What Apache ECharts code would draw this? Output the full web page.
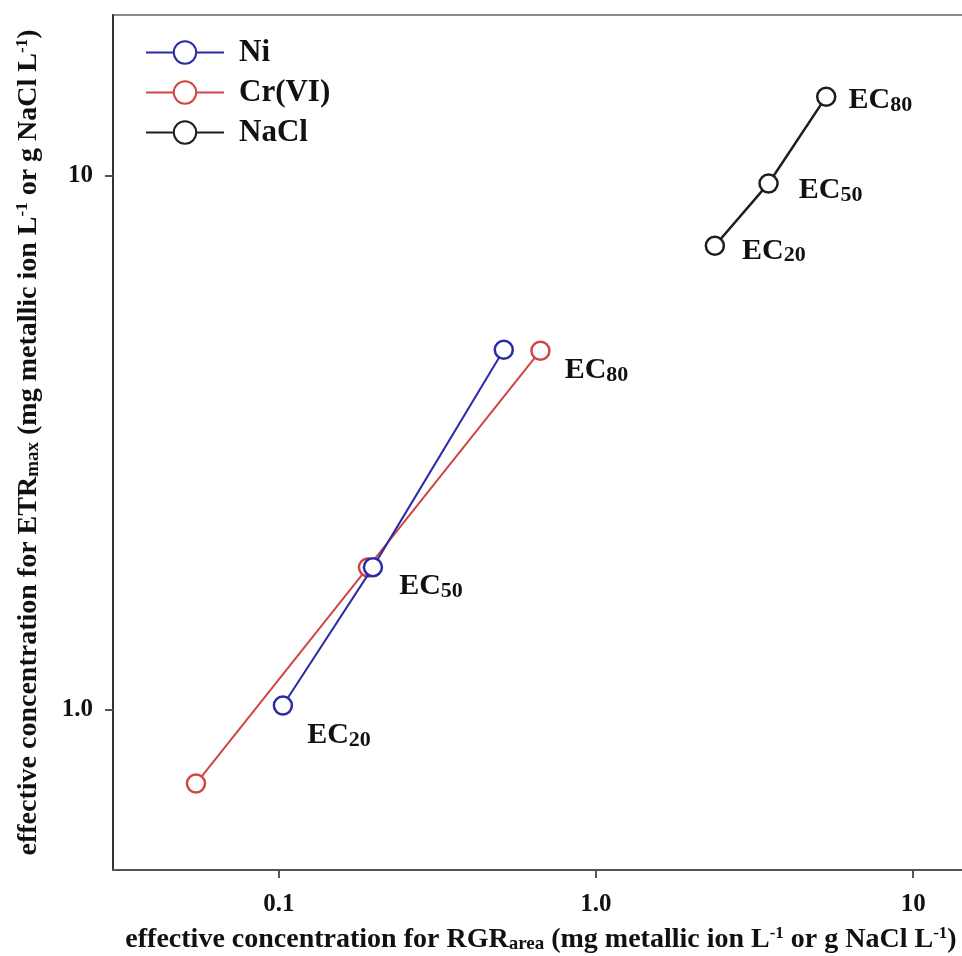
<!DOCTYPE html>
<html>
<head>
<meta charset="utf-8">
<script src="https://cdn.jsdelivr.net/npm/echarts@6/dist/echarts.min.js"></script>
<style>
  html, body { margin: 0; padding: 0; background: #fff; }
  #chart { width: 962px; height: 956px; }
</style>
</head>
<body>
<div id="chart"></div>
<script>
// Effect levels shown for each substance
const ecLevels = ['20', '50', '80'];

// Effective concentrations: RGR_area (x) vs ETR_max (y)
const niRGR = [0.103, 0.198, 0.512];
const niETR = [1.017, 1.847, 4.72];

const crRGR = [0.0548, 0.191, 0.668];
const crETR = [0.726, 1.845, 4.70];

const naclRGR = [2.37, 3.50, 5.32];
const naclETR = [7.39, 9.67, 14.06];

// Decade ticks and their printed labels
const xTickValues = [0.1, 1, 10];
const xTickLabels = ['0.1', '1.0', '10'];
const yTickValues = [1, 10];
const yTickLabels = ['1.0', '10'];

const seriesNames = ['Ni', 'Cr(VI)', 'NaCl'];

const SERIF = '"Liberation Serif", "Times New Roman", serif';

// Which points carry an EC label, and where the label sits relative to the point
const labelPlacement = {
  'Ni':     { 0: [14, 30], 1: [16, 19] },
  'Cr(VI)': { 2: [14, 20] },
  'NaCl':   { 0: [17, 5], 1: [20, 7], 2: [12, 4] }
};

const ecRich = {
  e: { fontFamily: SERIF, fontWeight: 'bold', fontSize: 30, color: '#111', lineHeight: 32 },
  s: { fontFamily: SERIF, fontWeight: 'bold', fontSize: 22, color: '#111', verticalAlign: 'bottom', lineHeight: 24, padding: [10, 0, 0, 0] }
};

function buildPoints(name, xs, ys) {
  const place = labelPlacement[name] || {};
  return xs.map(function (x, i) {
    const pt = { value: [x, ys[i]] };
    if (place[i]) {
      pt.label = {
        show: true,
        position: 'right',
        distance: 0,
        offset: place[i],
        formatter: '{e|EC}{s|' + ecLevels[i] + '}',
        rich: ecRich
      };
    }
    return pt;
  });
}

function lineSeries(name, color, xs, ys, lineWidth, z) {
  return {
    name: name,
    type: 'line',
    data: buildPoints(name, xs, ys),
    symbol: 'circle',
    symbolSize: 18,
    lineStyle: { color: color, width: lineWidth },
    itemStyle: { color: '#fff', borderColor: color, borderWidth: 2.5 },
    label: { show: false },
    emphasis: { disabled: true },
    z: z
  };
}

const titleRich = {
  t:   { fontFamily: SERIF, fontWeight: 'bold', fontSize: 28, color: '#111' },
  sub: { fontFamily: SERIF, fontWeight: 'bold', fontSize: 19, color: '#111', verticalAlign: 'bottom', padding: [10, 0, 0, 0] },
  sup: { fontFamily: SERIF, fontWeight: 'bold', fontSize: 17, color: '#111', verticalAlign: 'top', padding: [0, 0, 8, 0] }
};

function axisTitle(varName, varSub) {
  return '{t|effective concentration for ' + varName + '}{sub|' + varSub + '}' +
         '{t| (mg metallic ion L}{sup|-1}{t| or g NaCl L}{sup|-1}{t|)}';
}

function tickLabel(values, labels) {
  return function (v) {
    for (let i = 0; i < values.length; i++) {
      if (Math.abs(Math.log10(v) - Math.log10(values[i])) < 1e-6) return labels[i];
    }
    return '';
  };
}

const chart = echarts.init(document.getElementById('chart'), null, { renderer: 'canvas' });

chart.setOption({
  animation: false,
  backgroundColor: '#fff',
  grid: {
    left: 113, top: 15, width: 856, bottom: 86,
    outerBoundsMode: 'none',
    containLabel: false,
    show: true, borderColor: '#8a8a8a', borderWidth: 2, backgroundColor: 'transparent'
  },
  legend: {
    data: seriesNames,
    orient: 'vertical',
    left: 140, top: 32,
    itemWidth: 78, itemHeight: 28,
    itemGap: 9,
    textStyle: { fontFamily: SERIF, fontWeight: 'bold', fontSize: 31, color: '#111', padding: [0, 0, 0, 10] },
    selectedMode: false
  },
  xAxis: {
    type: 'log',
    logBase: 10,
    min: 0.03,
    max: 15,
    name: axisTitle('RGR', 'area'),
    nameLocation: 'middle',
    nameGap: 55,
    nameTextStyle: { rich: titleRich },
    axisLine: { show: true, lineStyle: { color: '#555', width: 2 } },
    axisTick: { show: true, length: 8, inside: false, customValues: xTickValues, lineStyle: { color: '#555', width: 2 } },
    axisLabel: {
      customValues: xTickValues,
      formatter: tickLabel(xTickValues, xTickLabels),
      margin: 22,
      fontFamily: SERIF, fontWeight: 'bold', fontSize: 25, color: '#111'
    },
    splitLine: { show: false },
    minorTick: { show: false }
  },
  yAxis: {
    type: 'log',
    logBase: 10,
    min: 0.5,
    max: 20,
    name: axisTitle('ETR', 'max'),
    nameLocation: 'middle',
    nameGap: 70,
    nameTextStyle: { rich: titleRich },
    axisLine: { show: true, lineStyle: { color: '#333', width: 2 } },
    axisTick: { show: true, length: 8, inside: false, customValues: yTickValues, lineStyle: { color: '#555', width: 2 } },
    axisLabel: {
      customValues: yTickValues,
      formatter: tickLabel(yTickValues, yTickLabels),
      margin: 20,
      fontFamily: SERIF, fontWeight: 'bold', fontSize: 25, color: '#111'
    },
    splitLine: { show: false },
    minorTick: { show: false }
  },
  series: [
    lineSeries('Ni', '#2b2ba6', niRGR, niETR, 2, 4),
    lineSeries('Cr(VI)', '#d04545', crRGR, crETR, 2, 3),
    lineSeries('NaCl', '#1e1e1e', naclRGR, naclETR, 2.5, 3)
  ]
});
</script>
</body>
</html>
